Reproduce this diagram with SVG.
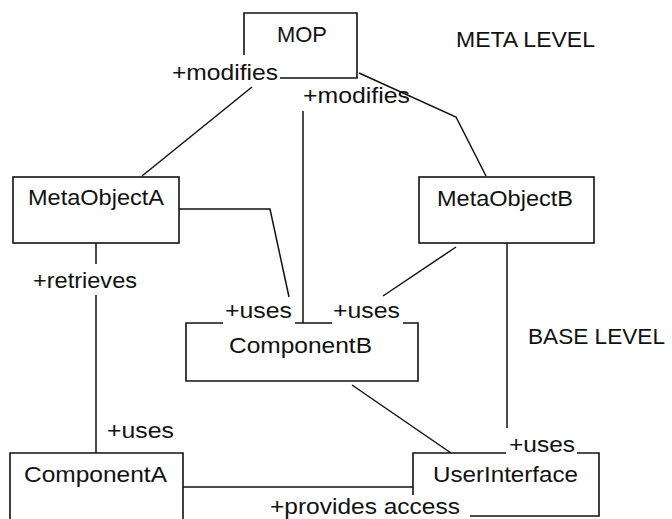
<svg xmlns="http://www.w3.org/2000/svg" width="672" height="519" viewBox="0 0 672 519">
  <style>
    .box { fill: none; stroke: #111; stroke-width: 1.6; }
    .edge { fill: none; stroke: #111; stroke-width: 1.5; }
    text { font-family: "Liberation Sans", Arial, sans-serif; font-size: 22px; fill: #111; }
  </style>
  <rect width="672" height="519" fill="#fff"/>

  <!-- level captions -->
  <text x="456" y="47" textLength="139" lengthAdjust="spacingAndGlyphs">META LEVEL</text>
  <text x="528" y="344" textLength="137" lengthAdjust="spacingAndGlyphs">BASE LEVEL</text>

  <g id="connectors">
    <!-- MOP to MetaObjectA -->
    <path class="edge" d="M252,87 L142,176"/>
    <text x="172" y="80" textLength="106" lengthAdjust="spacingAndGlyphs">+modifies</text>
    <!-- MOP to ComponentB -->
    <path class="edge" d="M303,111 V323"/>
    <text x="303" y="103" textLength="107" lengthAdjust="spacingAndGlyphs">+modifies</text>
    <!-- MOP to MetaObjectB -->
    <path class="edge" d="M359,73 L456,117 L486,176"/>
    <!-- MetaObjectA to ComponentB -->
    <path class="edge" d="M179,209 H270 L289,297"/>
    <text x="225" y="318" textLength="67" lengthAdjust="spacingAndGlyphs">+uses</text>
    <!-- MetaObjectB to ComponentB -->
    <path class="edge" d="M456,247 L383,296"/>
    <text x="333" y="318" textLength="67" lengthAdjust="spacingAndGlyphs">+uses</text>
    <!-- MetaObjectA to ComponentA -->
    <path class="edge" d="M96,243 V264 M96,295 V453"/>
    <text x="33" y="288" textLength="104" lengthAdjust="spacingAndGlyphs">+retrieves</text>
    <text x="107" y="438" textLength="67" lengthAdjust="spacingAndGlyphs">+uses</text>
    <!-- MetaObjectB to UserInterface -->
    <path class="edge" d="M507,243 V428"/>
    <text x="509" y="452" textLength="66" lengthAdjust="spacingAndGlyphs">+uses</text>
    <!-- ComponentB to UserInterface -->
    <path class="edge" d="M352,385 L451,453"/>
    <!-- ComponentA to UserInterface -->
    <path class="edge" d="M183,487 H413"/>
    <text x="270" y="514" textLength="190" lengthAdjust="spacingAndGlyphs">+provides access</text>
  </g>

  <g id="mop">
    <path class="box" d="M244,55 V13 H357 V78 H280"/>
    <text x="277" y="42" textLength="50" lengthAdjust="spacingAndGlyphs">MOP</text>
  </g>

  <g id="meta-object-a">
    <rect class="box" x="13" y="177" width="166" height="66"/>
    <text x="28" y="205" textLength="136" lengthAdjust="spacingAndGlyphs">MetaObjectA</text>
  </g>

  <g id="meta-object-b">
    <rect class="box" x="419" y="177" width="175" height="66"/>
    <text x="437" y="206" textLength="136" lengthAdjust="spacingAndGlyphs">MetaObjectB</text>
  </g>

  <g id="component-b">
    <path class="box" d="M223,323 H186 V381 H418 V323 H403 M295,323 H332"/>
    <text x="229" y="353" textLength="143" lengthAdjust="spacingAndGlyphs">ComponentB</text>
  </g>

  <g id="component-a">
    <path class="box" d="M10,520 V453 H183 V520"/>
    <text x="24" y="482" textLength="143" lengthAdjust="spacingAndGlyphs">ComponentA</text>
  </g>

  <g id="user-interface">
    <path class="box" d="M413,495 V453 H506 M577,453 H599 V516 H470"/>
    <text x="433" y="482" textLength="145" lengthAdjust="spacingAndGlyphs">UserInterface</text>
  </g>
</svg>
